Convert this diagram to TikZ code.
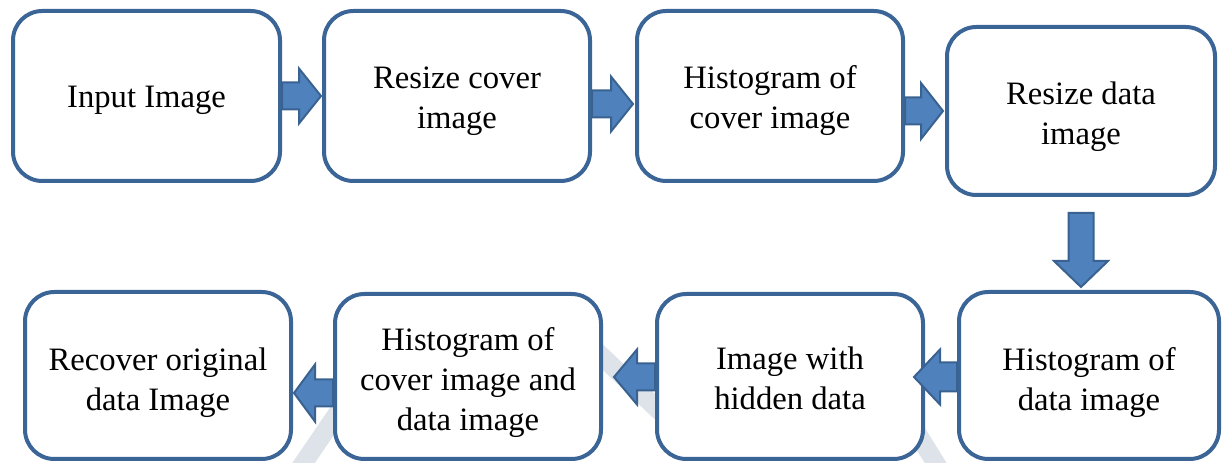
\documentclass[tikz,border=0pt]{standalone}
\usepackage{fontspec}
\setmainfont{Liberation Serif}
\usetikzlibrary{calc}
\definecolor{boxblue}{HTML}{3B6596}
\definecolor{arrfill}{HTML}{4F81BD}
\definecolor{arrline}{HTML}{3A6291}
\definecolor{wm}{HTML}{DDE3E8}
\tikzset{
  box/.style={draw=boxblue, line width=3pt, fill=white, rounded corners=22pt, inner sep=0pt},
  txt/.style={align=center, font=\fontsize{24.5}{30}\selectfont, inner sep=0pt},
  sz/.style 2 args={minimum width={#1*0.75pt}, minimum height={#2*0.75pt}},
  lbl/.style 2 args={label={[txt, yshift={-#1*0.75pt}]center:{#2}}},
  blk/.style={fill=arrfill, draw=arrline, line width=1.5pt, line join=miter},
  wmark/.style={draw=wm, line width=14pt}
}
\newcommand\hblk[7]{%
  \coordinate (T) at ($(#1)+(0,#3)$);
  \coordinate (Q) at (#2 |- T);
  \coordinate (P) at ($(Q)+(#4,0)$);
  \coordinate (H) at ($(P)+(#5,0)$);
  \draw[blk] ($(T)+(0,-#6)$) -- ($(H)+(0,-#6)$) -- ($(H)+(0,-#7)$) -- (P)
    -- ($(H)+(0,#7)$) -- ($(H)+(0,#6)$) -- ($(T)+(0,#6)$) -- cycle;}
\begin{document}
\begin{tikzpicture}[x=0.75pt, y=-0.75pt]
\useasboundingbox (0,0) rectangle (1222,463);
% faint watermark
\draw[wmark] (590,345) -- (690,440);
\draw[wmark] (352,392) -- (296,474);
\draw[wmark] (912,425) -- (945,478);
% boxes
\node[box, sz={267}{170}, lbl={4}{Input Image}] (b1) at (146.5,96) {};
\node[box, sz={266}{170}, lbl={5}{Resize cover\\image}] (b2) at (457,96) {};
\node[box, sz={266}{170}, lbl={5}{Histogram of\\cover image}] (b3) at (770,96) {};
\node[box, sz={268}{168}, lbl={6}{Resize data\\image}] (b4) at (1081,111) {};
\node[box, sz={260}{167}, lbl={7}{Histogram of\\data image}] (b5) at (1089,375.5) {};
\node[box, sz={266}{165}, lbl={2}{Image with\\hidden data}] (b6) at (790,376.5) {};
\node[box, sz={266}{165}, lbl={6}{Histogram of\\cover image and\\data image}] (b7) at (468,376.5) {};
\node[box, sz={266}{167}, lbl={7}{Recover original\\data Image}] (b8) at (158,375.5) {};
% arrows
\hblk{b1.east}{b2.west}{0}{-1}{-22}{13.5}{27.5}
\hblk{b2.east}{b3.west}{8}{-2}{-22}{13.5}{27.5}
\hblk{b3.east}{b4.west}{15}{-2}{-22}{13.5}{28}
\coordinate (VT) at ($(b4.south)+(0,16)$);
\coordinate (VQ) at (VT |- b5.north);
\coordinate (VP) at ($(VQ)+(0,-3)$);
\coordinate (VH) at ($(VP)+(0,-26)$);
\draw[blk] ($(VT)+(-12.5,0)$) -- ($(VH)+(-12.5,0)$) -- ($(VH)+(-27,0)$) -- (VP)
  -- ($(VH)+(27,0)$) -- ($(VH)+(12.5,0)$) -- ($(VT)+(12.5,0)$) -- cycle;
\hblk{b5.west}{b6.east}{1.5}{-11}{26}{14.5}{27.5}
\hblk{b6.west}{b7.east}{0.5}{11}{23}{13.5}{27.5}
\hblk{b7.west}{b8.east}{16.5}{1}{21}{13.5}{28.5}
\end{tikzpicture}
\end{document}
